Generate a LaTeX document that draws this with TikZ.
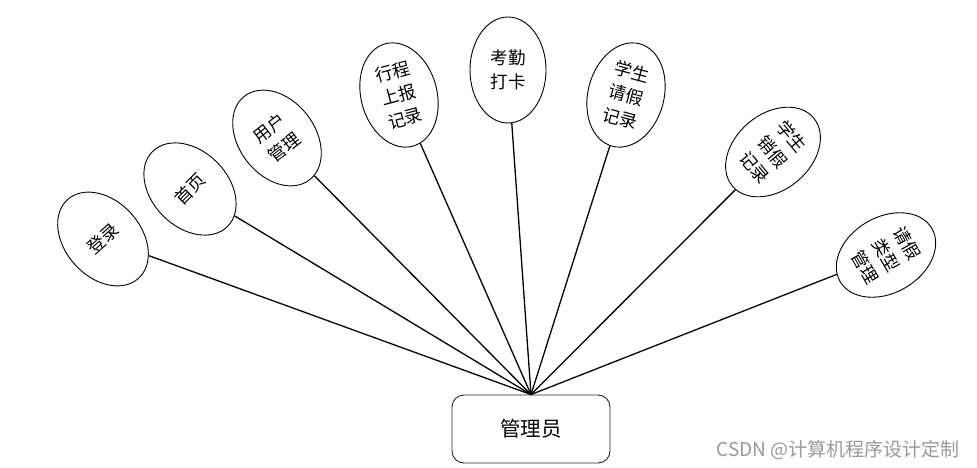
\documentclass[tikz,border=0pt]{standalone}
\usepackage{fontspec}
\setmainfont{Noto Sans CJK SC}
\usetikzlibrary{shapes.geometric}
\tikzset{
  bubble/.style={draw=black, line width=0.9pt, ellipse, minimum width=76pt, minimum height=106pt,
    inner sep=0pt, align=center, font=\fontsize{17.5pt}{24pt}\selectfont, fill=white},
  link/.style={draw=black, line width=1.3pt},
  adminbox/.style={draw=black!85, line width=0.9pt, rounded corners=12pt, minimum width=158pt,
    minimum height=68pt, font=\fontsize{20.5pt}{24pt}\selectfont}
}
\begin{document}
\begin{tikzpicture}[x=1pt,y=-1pt]
\useasboundingbox (0,0) rectangle (977,468);
\node[adminbox] (admin) at (531,429) {管理员};
\coordinate (top) at (admin.north);
\node[bubble, rotate=42] (e1) at (103,239) {登录};
\node[bubble, rotate=45] (e2) at (190,189) {首页};
\node[bubble, rotate=38] (e3) at (277,138) {用户\\管理};
\node[bubble, rotate=15] (e4) at (399,95) {行程\\上报\\记录};
\node[bubble] (e5) at (508,70) {考勤\\打卡};
\node[bubble, rotate=-15] (e6) at (626,95) {学生\\请假\\记录};
\node[bubble, rotate=-50] (e7) at (773,152) {学生\\销假\\记录};
\node[bubble, rotate=-60] (e8) at (886,255) {请假\\类型\\管理};
\foreach \e in {e1,e2,e3,e4,e5,e6,e7,e8}{\draw[link] (top) -- (\e);}
\node[text=black!40, font=\fontsize{19pt}{22pt}\selectfont, anchor=east] (wm) at (963,450) {CSDN @计算机程序设计定制};
\end{tikzpicture}
\end{document}
